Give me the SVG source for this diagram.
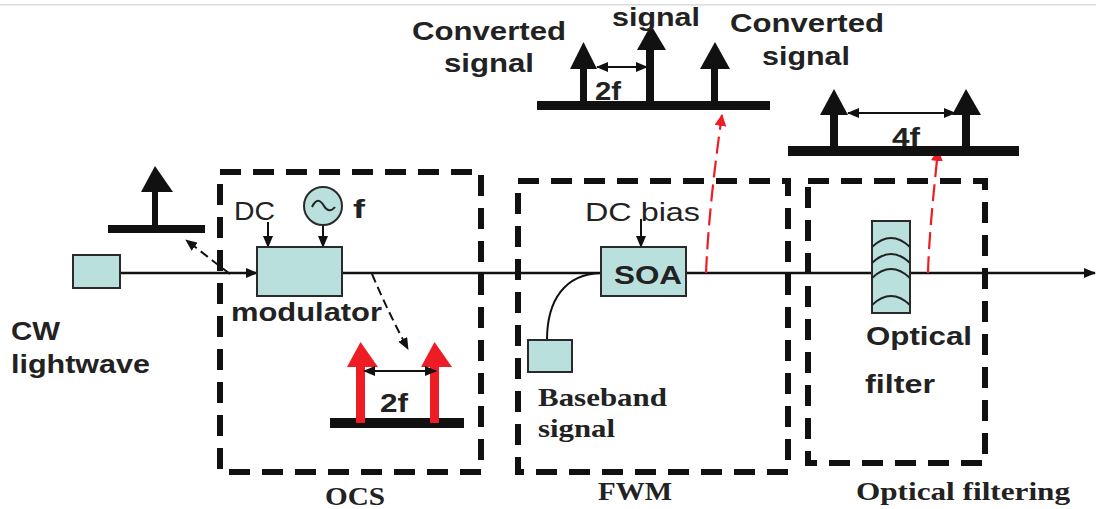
<svg xmlns="http://www.w3.org/2000/svg" width="1096" height="509" viewBox="0 0 1096 509">
<defs>
<marker id="ah" markerUnits="userSpaceOnUse" viewBox="0 0 12 10" refX="11" refY="5" markerWidth="12" markerHeight="10" orient="auto"><path d="M0 0L12 5L0 10Z" fill="#111"/></marker>
<marker id="ahs" markerUnits="userSpaceOnUse" viewBox="0 0 12 10" refX="1" refY="5" markerWidth="12" markerHeight="10" orient="auto"><path d="M12 0L0 5L12 10Z" fill="#111"/></marker>
<marker id="ahr" markerUnits="userSpaceOnUse" viewBox="0 0 12 12" refX="11" refY="6" markerWidth="12" markerHeight="12" orient="auto"><path d="M0 0L12 6L0 12Z" fill="#ee1c25"/></marker>
</defs>
<style>
.sans{font-family:"Liberation Sans",Arial,sans-serif;font-size:25px;fill:#222;font-weight:bold}
.reg{font-weight:normal}
.serif{font-family:"Liberation Serif","Times New Roman",serif;font-size:25px;fill:#222;font-weight:bold}
.box{fill:#b9e0dc;stroke:#2a2a2a;stroke-width:2}
.frame{fill:none;stroke:#111;stroke-width:6;stroke-dasharray:21 12}
.base{fill:#111}
.wire{fill:none;stroke:#111;stroke-width:2}
.thick{fill:none;stroke:#111;stroke-width:2.6}
.dash{fill:none;stroke:#111;stroke-width:2;stroke-dasharray:9 5}
.reddash{fill:none;stroke:#ee1c25;stroke-width:2.2;stroke-dasharray:17 7}
.wave{fill:none;stroke:#222;stroke-width:2}
</style>
<rect width="1096" height="509" fill="#fff"/>
<rect x="0" y="4" width="1096" height="1.5" fill="#dcdcdc"/>
<g id="frame-ocs"><rect class="frame" x="220" y="172" width="261" height="300"/><text class="serif" x="325" y="505" textLength="60" lengthAdjust="spacingAndGlyphs">OCS</text></g>
<g id="frame-fwm"><rect class="frame" x="518" y="181" width="270" height="291"/><text class="serif" x="598" y="500" textLength="74" lengthAdjust="spacingAndGlyphs">FWM</text></g>
<g id="frame-filter"><rect class="frame" x="808" y="181" width="177" height="282"/><text class="serif" x="856" y="500" textLength="214" lengthAdjust="spacingAndGlyphs">Optical filtering</text></g>
<g id="connectors">
<path class="thick" d="M120 273H257" marker-end="url(#ah)"/>
<path class="thick" d="M342 273H601"/>
<path class="thick" d="M686 273H872"/>
<path class="thick" d="M910 273H1095" marker-end="url(#ah)"/>
<path class="wire" d="M268 222V247" marker-end="url(#ah)"/>
<path class="wire" d="M323 225V247" marker-end="url(#ah)"/>
<path class="wire" d="M641 219V247" marker-end="url(#ah)"/>
<path class="wire" d="M547 340C547 300 565 274 601 273"/>
<path class="dash" d="M230 274L186 240" marker-end="url(#ah)"/>
<path class="dash" d="M372 274C383 300 395 325 408 349" marker-end="url(#ah)"/>
<path class="reddash" d="M706 273C708 225 714 170 722 115" marker-end="url(#ahr)"/>
<path class="reddash" d="M928 273C929 235 934 190 938 150" marker-end="url(#ahr)"/>
</g>
<g id="laser"><rect class="box" x="73" y="255" width="47" height="33"/><text class="sans" x="11" y="340" textLength="49" lengthAdjust="spacingAndGlyphs">CW</text><text class="sans" x="11" y="373" textLength="139" lengthAdjust="spacingAndGlyphs">lightwave</text></g>
<g id="modulator"><rect class="box" x="257" y="247" width="85" height="49"/><text class="sans" x="231" y="321" textLength="151" lengthAdjust="spacingAndGlyphs">modulator</text><text class="sans reg" x="234" y="220" textLength="41" lengthAdjust="spacingAndGlyphs">DC</text></g>
<g id="oscillator"><circle class="box" cx="323" cy="206" r="19"/><path class="wave" d="M312 207C317 197 321 201 324 206C327 211 331 212 335 207"/><text class="sans" x="353" y="218" textLength="12" lengthAdjust="spacingAndGlyphs">f</text></g>
<g id="soa"><rect class="box" x="601" y="247" width="85" height="49"/><text class="sans" x="614" y="284" textLength="68" lengthAdjust="spacingAndGlyphs">SOA</text><text class="sans reg" x="585" y="221" textLength="115" lengthAdjust="spacingAndGlyphs">DC bias</text></g>
<g id="baseband"><rect class="box" x="528" y="340" width="44" height="32"/><text class="serif" x="538" y="406" textLength="129" lengthAdjust="spacingAndGlyphs">Baseband</text><text class="serif" x="538" y="437" textLength="77" lengthAdjust="spacingAndGlyphs">signal</text></g>
<g id="optical-filter"><rect class="box" x="872" y="221" width="38" height="92"/><path class="wave" d="M872 247Q891 229 910 247M872 263Q891 245 910 263M872 278Q891 260 910 278M872 305Q891 287 910 305"/><text class="sans" x="866" y="345" textLength="106" lengthAdjust="spacingAndGlyphs">Optical</text><text class="sans" x="865" y="393" textLength="70" lengthAdjust="spacingAndGlyphs">filter</text></g>
<g id="spectrum-cw"><rect class="base" x="108" y="225" width="97" height="8"/><rect class="base" x="152" y="190" width="6" height="36"/><path class="base" d="M155 166L173 192H141Z"/></g>
<g id="spectrum-ocs"><rect class="base" x="330" y="418" width="134" height="10"/><g fill="#ee1c25"><rect x="356" y="365" width="9" height="58"/><rect x="430" y="365" width="9" height="58"/><path d="M360.500 342L378 367H347Z"/><path d="M434.500 342L452 367H421Z"/></g><path class="wire" d="M364 371H436" marker-start="url(#ahs)" marker-end="url(#ah)"/><text class="sans" x="380" y="412" textLength="28" lengthAdjust="spacingAndGlyphs">2f</text></g>
<g id="spectrum-fwm"><rect class="base" x="537" y="101" width="233" height="9"/><rect class="base" x="580" y="67" width="7" height="36"/><rect class="base" x="646" y="48" width="8" height="55"/><rect class="base" x="711" y="67" width="7" height="36"/><path class="base" d="M583.500 42L597 69H570Z"/><path class="base" d="M651 25L666 50H637Z"/><path class="base" d="M715 42L730 69H700Z"/><path class="wire" d="M597 67H647" marker-start="url(#ahs)" marker-end="url(#ah)"/><text class="sans" x="595" y="100" textLength="26" lengthAdjust="spacingAndGlyphs">2f</text><text class="sans" x="612" y="26" textLength="88" lengthAdjust="spacingAndGlyphs">signal</text><text class="sans" x="412" y="40" textLength="154" lengthAdjust="spacingAndGlyphs">Converted</text><text class="sans" x="444" y="72" textLength="90" lengthAdjust="spacingAndGlyphs">signal</text><text class="sans" x="730" y="32" textLength="154" lengthAdjust="spacingAndGlyphs">Converted</text><text class="sans" x="762" y="65" textLength="88" lengthAdjust="spacingAndGlyphs">signal</text></g>
<g id="spectrum-filtered"><rect class="base" x="788" y="146" width="231" height="10"/><rect class="base" x="830" y="112" width="8" height="36"/><rect class="base" x="962" y="112" width="8" height="36"/><path class="base" d="M834 89L848 115H820Z"/><path class="base" d="M966 89L981 115H952Z"/><path class="wire" d="M848 113H955" marker-start="url(#ahs)" marker-end="url(#ah)"/><text class="sans" x="892" y="146" textLength="28" lengthAdjust="spacingAndGlyphs">4f</text></g>
</svg>
